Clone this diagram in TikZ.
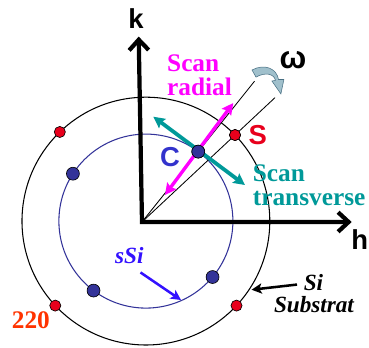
\documentclass[tikz,border=0pt]{standalone}
\usepackage{fontspec}
\setmainfont{Liberation Serif}
\newfontfamily\arialfont{Liberation Sans}
\usetikzlibrary{arrows.meta,calc}

\definecolor{dotred}{RGB}{232,0,28}
\definecolor{dotblue}{RGB}{51,51,153}
\definecolor{scanteal}{RGB}{0,153,153}
\definecolor{scanmag}{RGB}{255,0,255}
\definecolor{letterblue}{RGB}{51,51,204}
\definecolor{ssiblue}{RGB}{51,17,255}
\definecolor{orderorange}{RGB}{255,51,0}
\definecolor{omegafill}{RGB}{160,192,204}
\definecolor{omegaline}{RGB}{70,110,130}

\tikzset{
  axis/.style={line width=4pt, line join=miter, <->, >={Straight Barb[length=3.5mm,width=6.5mm]}},
  ringline/.style={line width=1pt},
  reddot/.style={circle, draw=black, line width=0.6pt, fill=dotred, minimum size=0.37cm, inner sep=0pt},
  bluedot/.style={circle, draw=black, line width=0.6pt, fill=dotblue, minimum size=0.43cm, inner sep=0pt},
  scanarrow/.style={line width=3.2pt, <->, >={Stealth[length=3.8mm,width=3.8mm,inset=0.6mm]}},
  pointer/.style={line width=2.4pt, ->, >={Stealth[length=3.4mm,width=3.4mm,inset=0.8mm]}},
  sanslabel/.style={inner sep=0pt, font=\arialfont\bfseries\fontsize{26}{26}\selectfont},
  seriflabel/.style={inner sep=0pt, font=\bfseries\fontsize{24}{22}\selectfont},
  italabel/.style={inner sep=0pt, font=\bfseries\itshape\fontsize{22}{22}\selectfont},
}

\begin{document}
\begin{tikzpicture}[x=1cm,y=1cm]
\useasboundingbox (-4.733,-4.167) rectangle (7.567,7.4);

\coordinate (O) at (0,0);
\coordinate (ctr) at (0.13,0.03);
\coordinate (kEnd) at (-0.11,6.18);
\coordinate (hEnd) at (6.99,0);

% rings
\draw[ringline] (ctr) circle (4.13);
\draw[ringline, dotblue] (ctr) circle (2.9);

% reflections
\foreach \a in {44,134,223,317}
  \node[reddot] (r\a) at ($(ctr)+(\a:4.13)$) {};
\foreach \a in {53,147,233,320}
  \node[bluedot] (b\a) at ($(ctr)+(\a:2.9)$) {};

% radial lines
\draw[line width=0.8pt] (O) -- ($(O)!2.0!(b53)$);
\draw[line width=0.8pt] (O) -- ($(O)!1.43!(r44)$);

% axes
\draw[axis] (kEnd) -- (O) -- (hEnd);
\node[sanslabel, anchor=base] (klabel) at (-0.2,6.44) {k};
\node[sanslabel, anchor=base west] (hlabel) at (6.97,-0.933) {h};

% scans
\coordinate (rad1) at (0.767,0.9);
\coordinate (rad2) at (3.043,3.967);
\coordinate (tr1) at (0.377,3.51);
\coordinate (tr2) at (3.433,1.233);
\draw[scanarrow, scanmag] (rad1) -- (rad2);
\draw[scanarrow, scanteal, line width=3.6pt] (tr1) -- (tr2);
\node[bluedot] at (b53) {};
\node[reddot] at (r44) {};

\node[seriflabel, text=scanmag, anchor=north west, align=left] (radial) at (0.833,5.567) {Scan\\radial};
\node[seriflabel, text=scanteal, anchor=north west, align=left] (transverse) at (3.69,1.9) {Scan\\transverse};
\node[sanslabel, text=dotred, anchor=base west] (slabel) at (3.55,2.567) {S};
\node[sanslabel, text=letterblue, anchor=base west] (clabel) at (0.6,1.843) {C};

% rotation omega
\filldraw[fill=omegafill, draw=omegaline, line width=0.5pt]
  (3.667,5.067) .. controls (4.1,5.3) and (4.5,5.1) .. (4.55,4.75)
  -- (4.73,4.75) -- (4.63,4.27) -- (4.33,4.7) -- (4.45,4.72)
  .. controls (4.4,4.95) and (4.1,5.0) .. (3.8,4.83) -- cycle;
\node[sanslabel, font=\arialfont\bfseries\fontsize{30}{30}\selectfont, anchor=base] (omega) at (5.03,5.123) {ω};

% ring labels
\node[italabel, text=ssiblue, anchor=base west] (ssi) at (-0.9,-1.377) {sSi};
\coordinate (ssitip) at ($(ctr)+(-66:2.88)$);
\draw[pointer, ssiblue] ($(ssi.south east)+(-0.11,-0.29)$) -- (ssitip);

\node[italabel, anchor=base] (si) at (5.717,-2.3) {Si};
\node[italabel, anchor=base] (substrat) at (5.733,-3.02) {Substrat};
\coordinate (sitip) at ($(ctr)+(-33:4.2)$);
\draw[pointer, black] ($(si.west)+(-0.22,-0.05)$) -- (sitip);

\node[seriflabel, text=orderorange, anchor=base west] (order) at (-4.343,-3.543) {220};
\end{tikzpicture}
\end{document}
